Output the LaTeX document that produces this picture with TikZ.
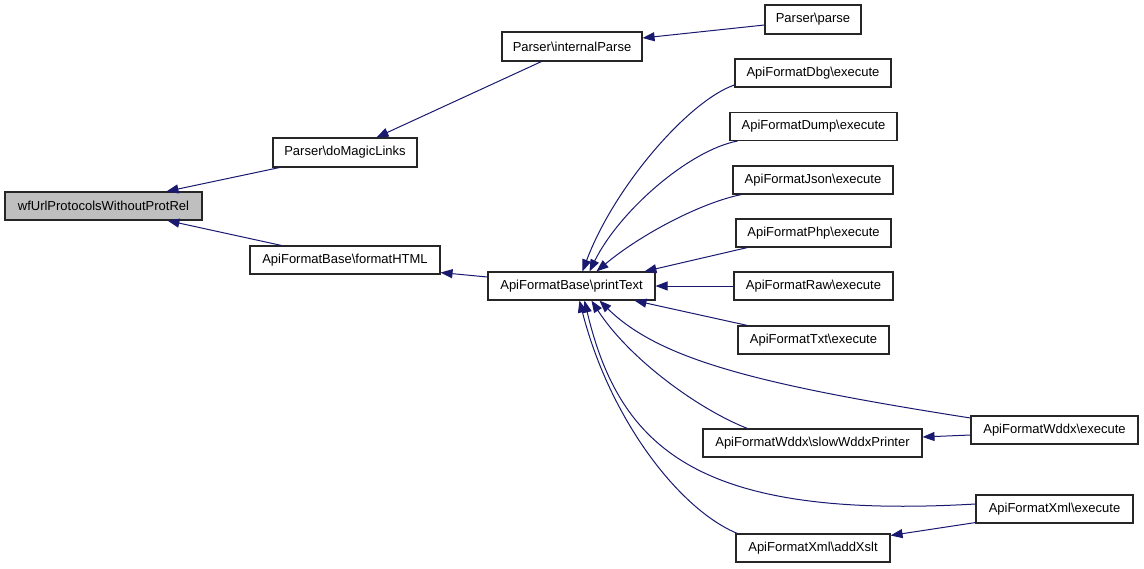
\documentclass[tikz,border=0pt]{standalone}
\usepackage{fontspec}
\setmainfont{Liberation Sans}
\usetikzlibrary{arrows.meta,calc}
\definecolor{edgeblue}{HTML}{191970}
\definecolor{hlgray}{HTML}{BFBFBF}
\begin{document}
\begin{tikzpicture}[x=1pt,y=-1pt,
  box/.style={draw=black!85, line width=1.1pt, fill=white, inner sep=0pt, minimum height=28pt,
    font=\fontsize{13}{15}\selectfont, text=black},
  callarrow/.style={draw=edgeblue, line width=1pt, -{Triangle[length=12pt,width=9pt]}, edgeblue}]
\useasboundingbox (0,0) rectangle (1144,568);
\fill[white] (0,0) rectangle (1144,568);
% nodes
\node[box, fill=hlgray, minimum width=197pt] (wf) at (103.5,206) {wfUrlProtocolsWithoutProtRel};
\node[box, minimum width=144pt, minimum height=29pt] (magic) at (345,152.5) {Parser\textbackslash doMagicLinks};
\node[box, minimum width=190pt] (html) at (345,260) {ApiFormatBase\textbackslash formatHTML};
\node[box, minimum width=140pt, minimum height=29pt] (ip) at (572,46.5) {Parser\textbackslash internalParse};
\node[box, minimum width=96pt, minimum height=29pt] (parse) at (813,19.5) {Parser\textbackslash parse};
\node[box, minimum width=167pt] (pt) at (571.5,286) {ApiFormatBase\textbackslash printText};
\node[box, minimum width=156pt] (dbg) at (813,73) {ApiFormatDbg\textbackslash execute};
\node[box, minimum width=167pt] (dump) at (813.5,126.5) {ApiFormatDump\textbackslash execute};
\node[box, minimum width=160pt] (json) at (813,180) {ApiFormatJson\textbackslash execute};
\node[box, minimum width=155pt] (php) at (813.5,233) {ApiFormatPhp\textbackslash execute};
\node[box, minimum width=159pt] (raw) at (813.5,286) {ApiFormatRaw\textbackslash execute};
\node[box, minimum width=151pt] (txt) at (813.5,340) {ApiFormatTxt\textbackslash execute};
\node[box, minimum width=167pt] (wex) at (1054.5,430) {ApiFormatWddx\textbackslash execute};
\node[box, minimum width=219pt] (slow) at (812.5,443) {ApiFormatWddx\textbackslash slowWddxPrinter};
\node[box, minimum width=157pt] (xex) at (1054.5,509) {ApiFormatXml\textbackslash execute};
\node[box, minimum width=154pt] (xsl) at (813,548) {ApiFormatXml\textbackslash addXslt};
% edges
\draw[callarrow] ([xshift=7pt]magic.south west) -- ([xshift=162pt]wf.north west);
\draw[callarrow] ([xshift=32pt]html.north west) -- ([xshift=163pt]wf.south west);
\draw[callarrow] ([xshift=40pt]ip.south west) -- ([xshift=104pt]magic.north west);
\draw[callarrow] ([yshift=-5.5pt]parse.west) -- ([yshift=8.5pt]ip.east);
\draw[callarrow] ([yshift=9pt]pt.west) -- ([yshift=2pt]html.south east);
\draw[callarrow] ([yshift=-12pt]dbg.west) .. controls (690,100) and (615,185) .. ([xshift=95pt]pt.north west);
\draw[callarrow] ([xshift=8pt]dump.south west) .. controls (690,150) and (620,210) .. ([xshift=102pt]pt.north west);
\draw[callarrow] ([xshift=9pt]json.south west) .. controls (700,203) and (640,235) .. ([xshift=109pt]pt.north west);
\draw[callarrow] ([xshift=12pt]php.south west) -- ([xshift=157pt]pt.north west);
\draw[callarrow] (raw.west) -- (pt.east);
\draw[callarrow] ([xshift=10pt]txt.north west) -- ([xshift=147pt]pt.south west);
\draw[callarrow] ([yshift=12pt]wex.west) .. controls (760,385) and (660,360) .. ([xshift=112pt]pt.south west);
\draw[callarrow] ([xshift=45pt]slow.north west) .. controls (700,410) and (630,360) .. ([xshift=104pt]pt.south west);
\draw[callarrow] ([yshift=5pt]xex.west) .. controls (700,520) and (620,450) .. ([xshift=97pt]pt.south west);
\draw[callarrow] ([xshift=2pt]xsl.north west) .. controls (680,510) and (610,420) .. ([xshift=92pt]pt.south west);
\draw[callarrow] ([yshift=-5pt]wex.west) -- ([yshift=6pt]slow.east);
\draw[callarrow] ([yshift=1pt]xex.south west) -- ([yshift=-2pt]xsl.north east);
\end{tikzpicture}
\end{document}
